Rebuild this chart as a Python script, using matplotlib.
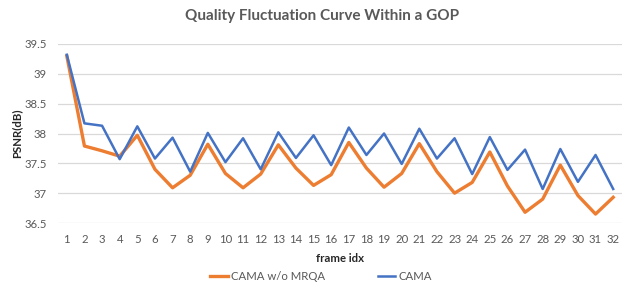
import matplotlib
matplotlib.use("Agg")
import matplotlib.pyplot as plt
from matplotlib.lines import Line2D

frames = list(range(1, 33))
cama_wo_mrqa = [39.30, 37.79, 37.71, 37.62, 37.97, 37.40, 37.09, 37.30, 37.82, 37.33,
                37.09, 37.32, 37.81, 37.42, 37.13, 37.31, 37.85, 37.42, 37.10, 37.33,
                37.83, 37.36, 37.00, 37.18, 37.69, 37.12, 36.68, 36.90, 37.47, 36.96,
                36.65, 36.93]
cama = [39.32, 38.17, 38.13, 37.57, 38.12, 37.58, 37.93, 37.36, 38.01, 37.52,
        37.92, 37.40, 38.02, 37.59, 37.97, 37.47, 38.10, 37.64, 38.00, 37.49,
        38.08, 37.58, 37.92, 37.32, 37.94, 37.39, 37.73, 37.07, 37.74, 37.19,
        37.64, 37.07]
yticks = [36.5, 37, 37.5, 38, 38.5, 39, 39.5]

plt.rcParams['font.family'] = ['Lato', 'DejaVu Sans']
gray = '#595959'
fs = 8.2

fig = plt.figure(figsize=(6.35, 2.96), dpi=100)
ax = fig.add_axes([58/635, 1-223/296, (622-58)/635, (223-44)/296])

ax.plot(frames, cama_wo_mrqa, color='#ED7D31', lw=2.4, label='CAMA w/o MRQA', zorder=3)
ax.plot(frames, cama, color='#4472C4', lw=1.8, label='CAMA', zorder=4)

ax.set_xlim(0.5, 32.5)
ax.set_ylim(36.5, 39.5)
ax.set_yticks(yticks)
ax.set_yticklabels([f'{v:g}' for v in yticks])
ax.set_xticks(frames)
ax.set_xticklabels([str(f) for f in frames])
ax.tick_params(length=0, colors=gray, labelsize=fs)
ax.tick_params(axis='x', pad=8)
ax.tick_params(axis='y', pad=8)
ax.grid(axis='y', color='#D9D9D9', lw=0.9)
ax.set_axisbelow(True)
for s in ax.spines.values():
    s.set_visible(False)

ax.set_xlabel('frame idx', fontsize=fs, fontweight='bold', color='#262626')
ax.xaxis.set_label_coords(0.5, -(258-223)/179, transform=ax.transAxes)
ax.xaxis.label.set_va('center')
ax.set_ylabel('PSNR(dB)', fontsize=fs, fontweight='bold', color='#262626')
ax.yaxis.set_label_coords(-(58-17)/564, 0.5, transform=ax.transAxes)
ax.yaxis.label.set_va('center')
fig.text(322/635, 1-16/296, 'Quality Fluctuation Curve Within a GOP', ha='center', va='center',
         fontsize=11, fontweight='bold', color=gray)

handles = [Line2D([], [], color='#ED7D31', lw=2.4), Line2D([], [], color='#4472C4', lw=1.8)]
fig.legend(handles, ['CAMA w/o MRQA', 'CAMA'], loc='center', bbox_to_anchor=(321/635, 1-276/296),
           ncol=2, frameon=False, fontsize=fs, labelcolor=gray, handlelength=1.5,
           handletextpad=0.3, columnspacing=4.6, borderpad=0, borderaxespad=0)

fig.savefig('out.png', dpi=100)
